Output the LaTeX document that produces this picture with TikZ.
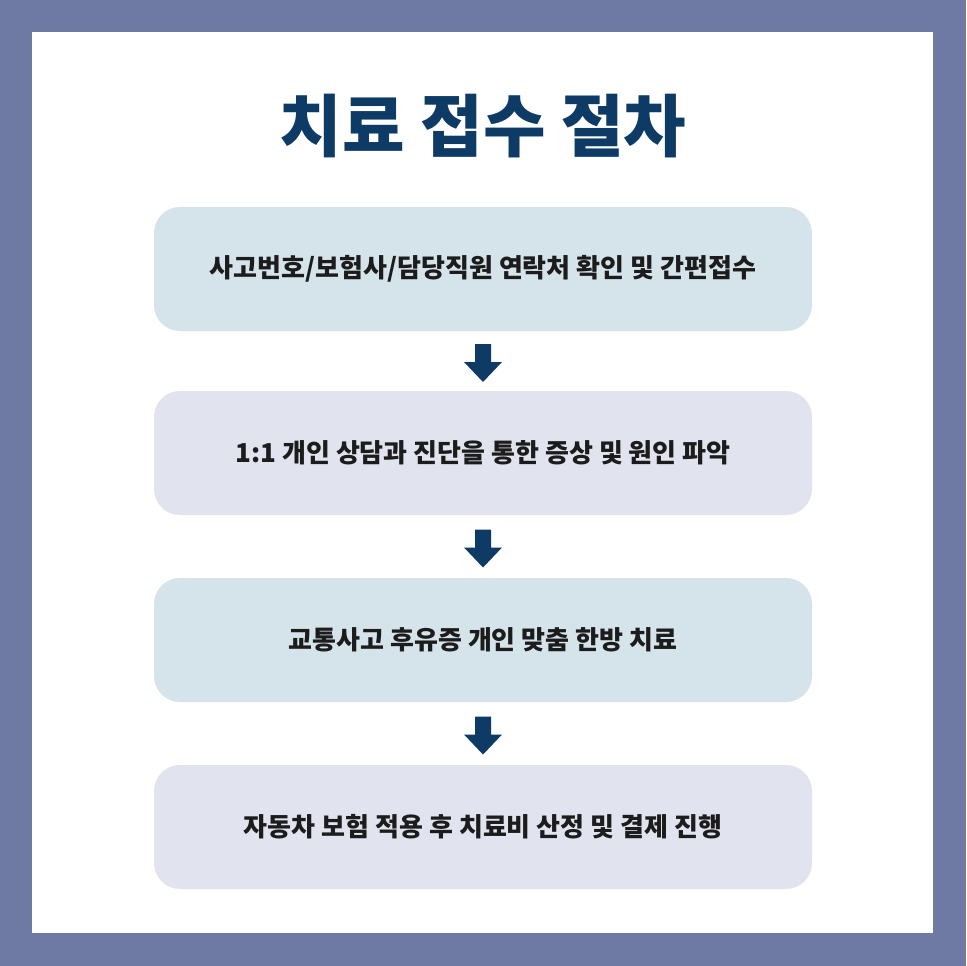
\documentclass[tikz,border=0pt]{standalone}
\usepackage{fontspec}
\usetikzlibrary{calc}
\setmainfont{Noto Sans CJK KR}
\newfontfamily\kr{Noto Sans CJK KR}
\definecolor{framec}{HTML}{6E7AA3}
\definecolor{boxa}{HTML}{D5E3EA}
\definecolor{boxb}{HTML}{E1E4EE}
\definecolor{navy}{HTML}{0E3A66}
\definecolor{txt}{HTML}{1C1C1C}
\tikzset{
  stepbox/.style={rounded corners=26pt, minimum width=658pt, minimum height=124pt, inner sep=0pt,
    font=\kr\bfseries\fontsize{26}{30}\selectfont, text=txt},
  downarrow/.style={fill=navy},
}
\begin{document}
\begin{tikzpicture}[x=1pt,y=-1pt]
\fill[framec] (0,0) rectangle (966,966);
\fill[white] (32,32) rectangle (933,933);
\useasboundingbox (0,0) rectangle (966,966);
\node[font=\kr\bfseries\fontsize{68}{74}\selectfont, text=navy] (title) at (483,126) {치료 접수 절차};
\node[stepbox, fill=boxa] (s1) at (483,269) {사고번호/보험사/담당직원 연락처 확인 및 간편접수};
\node[stepbox, fill=boxb] (s2) at (483,453) {1:1 개인 상담과 진단을 통한 증상 및 원인 파악};
\node[stepbox, fill=boxa] (s3) at (483,640) {교통사고 후유증 개인 맞춤 한방 치료};
\node[stepbox, fill=boxb] (s4) at (483,827) {자동차 보험 적용 후 치료비 산정 및 결제 진행};
\foreach \a/\b/\n in {s1/s2/1, s2/s3/2, s3/s4/3}{
  \coordinate (m\n) at ($(\a.south)!0.5!(\b.north)+(0,2)$);
  \fill[downarrow] ([shift={(-8,-19)}]m\n) -- ([shift={(8,-19)}]m\n) -- ([shift={(8,-1)}]m\n)
    -- ([shift={(19,-1)}]m\n) -- ([shift={(0,19)}]m\n) -- ([shift={(-19,-1)}]m\n)
    -- ([shift={(-8,-1)}]m\n) -- cycle;
}
\end{tikzpicture}
\end{document}
